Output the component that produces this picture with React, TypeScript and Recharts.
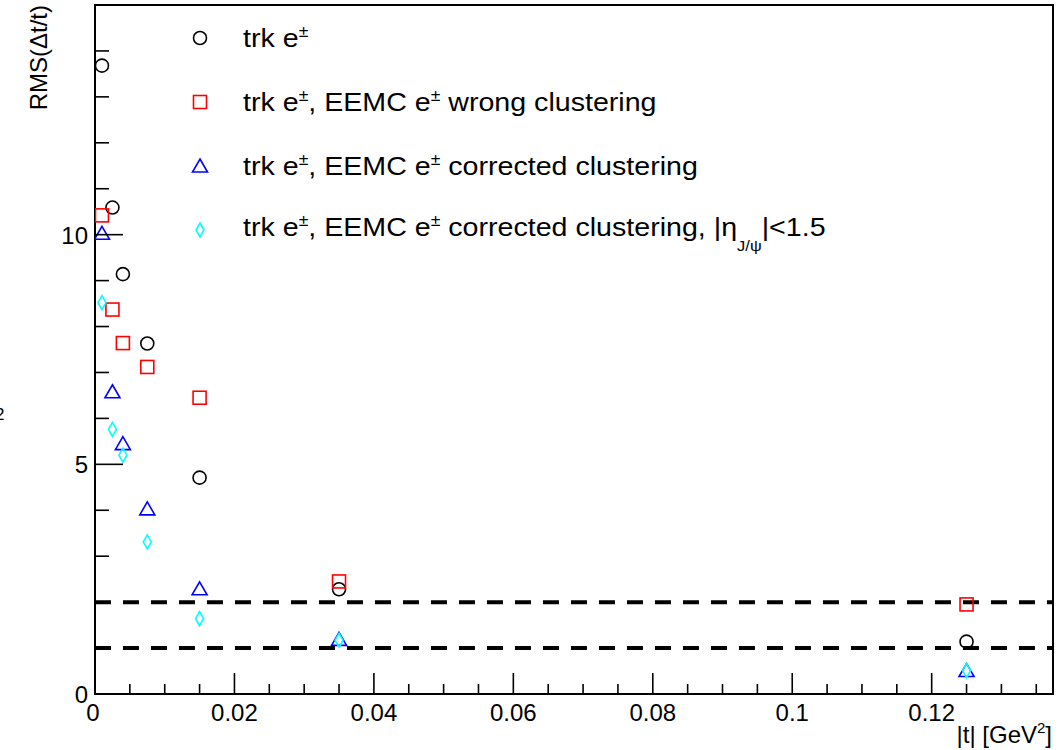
import React from "react";
import {
  ScatterChart,
  Scatter,
  XAxis,
  YAxis,
  ReferenceLine,
  ReferenceArea,
  Legend,
} from "recharts";

// |t| bin centres [GeV^2]
const tBins = [0.001, 0.0025, 0.004, 0.0075, 0.015, 0.035, 0.125];

// RMS(Δt/t) per bin, one list per reconstruction
const rmsTrk = [13.68, 10.59, 9.14, 7.63, 4.71, 2.28, 1.14];
const rmsWrong = [10.42, 8.37, 7.64, 7.12, 6.45, 2.45, 1.95];
const rmsCorrected = [10.03, 6.58, 5.45, 4.03, 2.29, 1.19, 0.51];
const rmsCorrectedEta = [8.52, 5.76, 5.2, 3.31, 1.64, 1.17, 0.51];

// horizontal guide lines
const guideLevels = [2, 1];

const xMax = 0.1374;
const yMax = 15;
const xTickLabels = ["0", "0.02", "0.04", "0.06", "0.08", "0.1", "0.12"];
const yTickLabels = ["0", "5", "10"];
const xTicks = Array.from({ length: 28 }, (_, i) => i * 0.005);
const yTicks = Array.from({ length: 15 }, (_, i) => i);

const FONT = "'Liberation Sans', Arial, Helvetica, sans-serif";

const toRows = (vals: number[]) => tBins.map((t, i) => ({ t, rms: vals[i] }));

type ShapeName = "circle" | "square" | "triangle" | "diamond";

function Marker({ cx, cy, kind, color }: { cx: number; cy: number; kind: ShapeName; color: string }) {
  const sw = 1.6;
  if (kind === "circle")
    return <circle cx={cx} cy={cy} r={6.5} fill="none" stroke={color} strokeWidth={sw} />;
  if (kind === "square")
    return <rect x={cx - 6.5} y={cy - 6.5} width={13} height={13} fill="none" stroke={color} strokeWidth={sw} />;
  if (kind === "triangle")
    return (
      <polygon
        points={`${cx},${cy - 7} ${cx + 7.5},${cy + 6} ${cx - 7.5},${cy + 6}`}
        fill="none"
        stroke={color}
        strokeWidth={sw}
      />
    );
  return (
    <polygon
      points={`${cx},${cy - 7} ${cx + 4},${cy} ${cx},${cy + 7} ${cx - 4},${cy}`}
      fill="none"
      stroke={color}
      strokeWidth={sw}
    />
  );
}

const series: { key: string; vals: number[]; kind: ShapeName; color: string; label: React.ReactNode }[] = [
  {
    key: "trk",
    vals: rmsTrk,
    kind: "circle",
    color: "#000000",
    label: (
      <>
        trk e<sup>±</sup>
      </>
    ),
  },
  {
    key: "wrong",
    vals: rmsWrong,
    kind: "square",
    color: "#ff0000",
    label: (
      <>
        trk e<sup>±</sup>, EEMC e<sup>±</sup> wrong clustering
      </>
    ),
  },
  {
    key: "corrected",
    vals: rmsCorrected,
    kind: "triangle",
    color: "#0000ff",
    label: (
      <>
        trk e<sup>±</sup>, EEMC e<sup>±</sup> corrected clustering
      </>
    ),
  },
  {
    key: "correctedEta",
    vals: rmsCorrectedEta,
    kind: "diamond",
    color: "#00ffff",
    label: (
      <>
        trk e<sup>±</sup>, EEMC e<sup>±</sup> corrected clustering, |η<sub>J/ψ</sub>|&lt;1.5
      </>
    ),
  },
];

function XTick(props: any) {
  const { x, y, payload } = props;
  const step = Math.round(payload.value / 0.005);
  const major = step % 4 === 0;
  return (
    <g>
      <line x1={x} x2={x} y1={y} y2={y - (major ? 21 : 10)} stroke="#000" strokeWidth={1.6} />
      {major && (
        <text x={step === 0 ? x - 2 : x} y={y + 27} textAnchor="middle" fontSize={24} fontFamily={FONT} fill="#000">
          {xTickLabels[step / 4]}
        </text>
      )}
    </g>
  );
}

function YTick(props: any) {
  const { x, y, payload } = props;
  const major = payload.value % 5 === 0;
  return (
    <g>
      <line x1={x} x2={x + (major ? 28 : 14)} y1={y} y2={y} stroke="#000" strokeWidth={1.6} />
      {major && (
        <text x={x - 7} y={y + 9} textAnchor="end" fontSize={24} fontFamily={FONT} fill="#000">
          {yTickLabels[payload.value / 5]}
        </text>
      )}
    </g>
  );
}

function renderLegend() {
  return (
    <div className="rms-legend" style={{ fontFamily: FONT, fontSize: 26, color: "#000" }}>
      {series.map((s) => (
        <div key={s.key} style={{ display: "flex", alignItems: "center", height: 64 }}>
          <svg width={30} height={30} style={{ flex: "none" }}>
            <Marker cx={15} cy={15} kind={s.kind} color={s.color} />
          </svg>
          <span
            style={{
              marginLeft: 28,
              whiteSpace: "nowrap",
              lineHeight: 1,
              display: "inline-block",
              transform: "scaleX(1.1)",
              transformOrigin: "left center",
            }}
          >
            {s.label}
          </span>
        </div>
      ))}
      <style>{`
        .rms-legend sup { font-size: 16px; vertical-align: 10px; line-height: 0; }
        .rms-legend sub { font-size: 15px; vertical-align: -15px; line-height: 0; }
      `}</style>
    </div>
  );
}

export default function App() {
  return (
    <div style={{ position: "absolute", left: 0, top: 0, width: 1064, height: 750, background: "#fff" }}>
      <ScatterChart width={1064} height={750} margin={{ top: 5, right: 11, left: 0, bottom: 0 }}>
        <XAxis
          type="number"
          dataKey="t"
          domain={[0, xMax]}
          ticks={xTicks}
          interval={0}
          tickSize={0}
          tickMargin={0}
          tickLine={false}
          allowDataOverflow
          height={56}
          axisLine={{ stroke: "#000", strokeWidth: 2 }}
          tick={<XTick />}
          label={{
            content: () => (
              <text x={1052} y={743} textAnchor="end" fontSize={24} fontFamily={FONT} fill="#000">
                |t| [GeV
                <tspan dy={-10} fontSize={15}>
                  2
                </tspan>
                <tspan dy={10}>]</tspan>
              </text>
            ),
          }}
        />
        <YAxis
          type="number"
          dataKey="rms"
          domain={[0, yMax]}
          ticks={yTicks}
          interval={0}
          tickSize={0}
          tickMargin={0}
          tickLine={false}
          allowDataOverflow
          width={95}
          axisLine={{ stroke: "#000", strokeWidth: 2 }}
          tick={<YTick />}
          label={{
            content: () => (
              <g>
                <text
                  transform="translate(47,5) rotate(-90)"
                  textAnchor="end"
                  fontSize={24}
                  fontFamily={FONT}
                  fill="#000"
                >
                  RMS(Δt/t)
                </text>
                <text x={-5} y={420} fontSize={17} fontFamily={FONT} fill="#000">
                  2
                </text>
              </g>
            ),
          }}
        />
        <ReferenceArea x1={0} x2={xMax} y1={0} y2={yMax} fill="none" stroke="#000" strokeWidth={2} />
        {guideLevels.map((v) => (
          <ReferenceLine key={v} y={v} stroke="#000" strokeWidth={4} strokeDasharray="16 12" />
        ))}
        {series.map((s) => (
          <Scatter
            key={s.key}
            name={s.key}
            data={toRows(s.vals)}
            isAnimationActive={false}
            shape={(p: any) => <Marker cx={p.cx} cy={p.cy} kind={s.kind} color={s.color} />}
          />
        ))}
        <Legend
          layout="vertical"
          align="center"
          verticalAlign="middle"
          wrapperStyle={{ left: 185, top: 6, width: 820, height: 260 }}
          content={() => renderLegend()}
        />
      </ScatterChart>
    </div>
  );
}
